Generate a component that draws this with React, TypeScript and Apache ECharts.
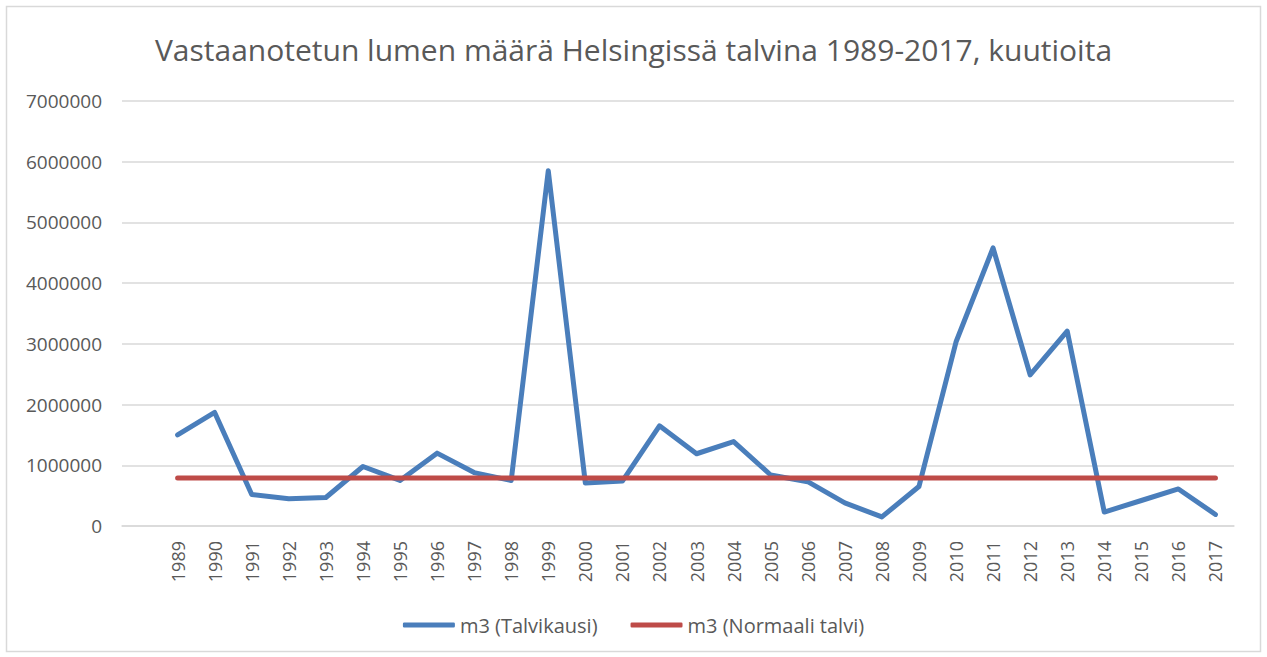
import React, { useEffect, useRef } from "react";
import * as echarts from "echarts";

const TITLE = "Vastaanotetun lumen määrä Helsingissä talvina 1989-2017, kuutioita";

const years = [
  "1989", "1990", "1991", "1992", "1993", "1994", "1995", "1996", "1997", "1998",
  "1999", "2000", "2001", "2002", "2003", "2004", "2005", "2006", "2007", "2008",
  "2009", "2010", "2011", "2012", "2013", "2014", "2015", "2016", "2017",
];

const talvikausi = [
  1500000, 1870000, 520000, 450000, 470000, 980000, 750000, 1200000, 880000, 750000,
  5850000, 710000, 740000, 1650000, 1190000, 1390000, 840000, 730000, 380000, 150000,
  650000, 3030000, 4580000, 2490000, 3210000, 230000, 420000, 610000, 190000,
];

const normaaliTalvi = [
  790000, 790000, 790000, 790000, 790000, 790000, 790000, 790000, 790000, 790000,
  790000, 790000, 790000, 790000, 790000, 790000, 790000, 790000, 790000, 790000,
  790000, 790000, 790000, 790000, 790000, 790000, 790000, 790000, 790000,
];

const seriesNames = ["m3 (Talvikausi)", "m3 (Normaali talvi)"];

export default function App() {
  const ref = useRef<HTMLDivElement>(null);

  useEffect(() => {
    document.body.style.margin = "0";
    if (!ref.current) return;
    const chart = echarts.init(ref.current, null, { renderer: "svg" });
    const font = "'Open Sans', sans-serif";
    const textColor = "#595959";
    // Excel chart had a leading empty category
    const cats = ["", ...years];
    chart.setOption({
      animation: false,
      backgroundColor: "#ffffff",
      textStyle: { fontFamily: font },
      title: {
        text: TITLE,
        left: "center",
        top: 29,
        textStyle: { fontFamily: font, fontSize: 30, fontWeight: "normal", color: textColor },
      },
      graphic: [
        {
          type: "rect",
          shape: { x: 6.5, y: 6.5, width: 1254, height: 645 },
          style: { fill: "none", stroke: "#d9d9d9", lineWidth: 1.5 },
          silent: true,
        },
      ],
      legend: {
        bottom: 17,
        left: "center",
        itemWidth: 52,
        itemHeight: 5,
        itemGap: 33,
        icon: "roundRect",
        textStyle: { fontFamily: font, fontSize: 20, color: textColor },
        data: seriesNames,
      },
      grid: { left: 122, right: 33, top: 101, bottom: 131, containLabel: false },
      xAxis: {
        type: "category",
        data: cats,
        boundaryGap: true,
        axisLine: { show: true, lineStyle: { color: "#d9d9d9", width: 1.5 } },
        axisTick: { show: false },
        axisLabel: {
          rotate: 90,
          interval: 0,
          margin: 15,
          fontFamily: font,
          fontSize: 18,
          color: textColor,
        },
      },
      yAxis: {
        type: "value",
        min: 0,
        max: 7000000,
        interval: 1000000,
        axisLine: { show: false },
        axisTick: { show: false },
        splitLine: { lineStyle: { color: "#d9d9d9", width: 1.5 } },
        axisLabel: {
          margin: 20,
          fontFamily: font,
          fontSize: 19,
          color: textColor,
          formatter: (v: number) => String(v),
        },
      },
      series: [
        {
          name: seriesNames[0],
          type: "line",
          data: [null, ...talvikausi],
          showSymbol: false,
          symbol: "none",
          itemStyle: { color: "#4a7ebb" },
          lineStyle: { color: "#4a7ebb", width: 5, cap: "round", join: "round" },
          z: 2,
        },
        {
          name: seriesNames[1],
          type: "line",
          data: [null, ...normaaliTalvi],
          showSymbol: false,
          symbol: "none",
          itemStyle: { color: "#be4b48" },
          lineStyle: { color: "#be4b48", width: 5, cap: "round", join: "round" },
          z: 3,
        },
      ],
    });
    return () => chart.dispose();
  }, []);

  return <div ref={ref} style={{ width: 1267, height: 657 }} />;
}
